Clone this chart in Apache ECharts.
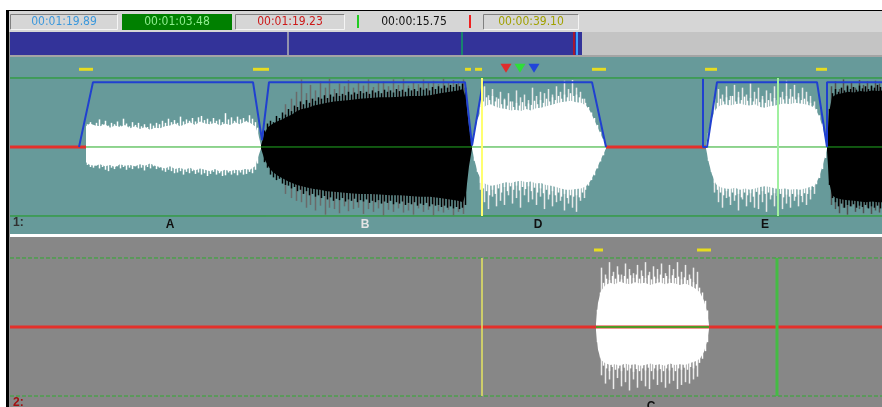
<!DOCTYPE html>
<html>
<head>
<meta charset="utf-8">
<style>
  html, body { margin: 0; padding: 0; background: #fff; }
  #main { width: 882px; height: 407px; }
</style>
<script src="https://cdn.jsdelivr.net/npm/echarts@6/dist/echarts.min.js"></script>
</head>
<body>
<div id="main"></div>
<script>
// --- time counters ---
const timeLabels = ['00:01:19.89', '00:01:03.48', '00:01:19.23', '00:00:15.75', '00:00:39.10'];

// --- overview bar: filled range and cursor positions ---
const overviewRange = [10, 582];
const overviewMarks = [288, 462, 574, 577];

// --- waveforms: [time, top amplitude, bottom amplitude] ---
// body = solid core, fine = dense sample lines, peaks = sparse tall peaks
const waveA = [[86,0.30,0.22],[90,0.34,0.26],[95,0.31,0.27],[100,0.30,0.25],[105,0.33,0.28],[110,0.28,0.26],[115,0.31,0.29],[120,0.29,0.25],[125,0.32,0.27],[130,0.27,0.26],[135,0.30,0.28],[140,0.26,0.25],[145,0.29,0.27],[150,0.25,0.24],[155,0.28,0.27],[160,0.27,0.29],[165,0.30,0.31],[170,0.31,0.28],[175,0.34,0.32],[180,0.30,0.30],[185,0.33,0.33],[190,0.36,0.30],[195,0.32,0.34],[200,0.37,0.31],[205,0.34,0.33],[210,0.33,0.35],[215,0.35,0.32],[220,0.31,0.36],[225,0.34,0.33],[230,0.32,0.35],[235,0.36,0.33],[240,0.33,0.34],[245,0.37,0.32],[250,0.35,0.33],[255,0.30,0.28],[258,0.20,0.15],[261,0.02,0.02]];
const fineA = [[87,0.33,0.26],[90,0.36,0.29],[93,0.32,0.30],[96,0.35,0.27],[99,0.40,0.31],[102,0.33,0.29],[105,0.38,0.33],[108,0.31,0.35],[111,0.35,0.30],[114,0.33,0.32],[117,0.37,0.28],[120,0.31,0.31],[123,0.41,0.29],[126,0.34,0.33],[129,0.30,0.30],[132,0.36,0.32],[135,0.32,0.28],[138,0.35,0.31],[141,0.30,0.30],[144,0.33,0.34],[147,0.29,0.29],[150,0.34,0.31],[153,0.31,0.28],[156,0.35,0.32],[159,0.33,0.30],[162,0.38,0.34],[165,0.35,0.36],[168,0.41,0.33],[171,0.36,0.35],[174,0.39,0.38],[177,0.35,0.37],[180,0.44,0.35],[183,0.37,0.40],[186,0.40,0.36],[189,0.38,0.38],[192,0.42,0.35],[195,0.37,0.39],[198,0.43,0.37],[201,0.45,0.40],[204,0.39,0.38],[207,0.41,0.42],[210,0.37,0.39],[213,0.42,0.36],[216,0.38,0.40],[219,0.40,0.38],[222,0.36,0.42],[225,0.49,0.41],[228,0.40,0.37],[231,0.43,0.40],[234,0.38,0.38],[237,0.44,0.41],[240,0.40,0.37],[243,0.42,0.40],[246,0.38,0.39],[249,0.46,0.36],[252,0.41,0.38],[255,0.36,0.33],[257,0.28,0.24]];

const waveB = [[261,0.02,0.02],[264,0.18,0.16],[268,0.29,0.27],[272,0.33,0.35],[277,0.37,0.41],[282,0.40,0.45],[287,0.44,0.49],[292,0.47,0.52],[297,0.52,0.55],[302,0.55,0.57],[308,0.57,0.59],[314,0.60,0.61],[320,0.62,0.62],[327,0.64,0.64],[334,0.66,0.65],[342,0.67,0.66],[350,0.68,0.67],[360,0.70,0.68],[370,0.71,0.68],[380,0.72,0.69],[390,0.72,0.70],[400,0.73,0.70],[410,0.74,0.71],[420,0.74,0.72],[430,0.75,0.72],[440,0.78,0.74],[450,0.80,0.76],[458,0.82,0.78],[463,0.84,0.80],[466,0.70,0.66],[469,0.30,0.28],[472,0.02,0.02]];
const fineB = [[264,0.24,0.22],[267,0.34,0.30],[270,0.38,0.40],[273,0.36,0.44],[276,0.45,0.48],[279,0.42,0.46],[282,0.50,0.53],[285,0.47,0.55],[288,0.55,0.56],[291,0.52,0.60],[294,0.60,0.58],[297,0.58,0.64],[300,0.66,0.62],[303,0.62,0.68],[306,0.68,0.64],[309,0.64,0.70],[312,0.70,0.68],[315,0.67,0.72],[318,0.72,0.70],[321,0.70,0.74],[324,0.75,0.71],[327,0.71,0.76],[330,0.76,0.73],[333,0.73,0.78],[336,0.78,0.75],[339,0.74,0.77],[342,0.77,0.74],[345,0.75,0.79],[348,0.80,0.76],[351,0.76,0.78],[354,0.79,0.75],[357,0.77,0.80],[360,0.81,0.77],[363,0.78,0.79],[366,0.80,0.76],[369,0.77,0.81],[372,0.82,0.78],[375,0.79,0.80],[378,0.81,0.77],[381,0.78,0.82],[384,0.83,0.79],[387,0.80,0.81],[390,0.82,0.78],[393,0.79,0.83],[396,0.84,0.80],[399,0.81,0.82],[402,0.83,0.79],[405,0.80,0.84],[408,0.85,0.81],[411,0.82,0.83],[414,0.84,0.80],[417,0.81,0.85],[420,0.86,0.82],[423,0.83,0.84],[426,0.85,0.81],[429,0.82,0.86],[432,0.87,0.83],[435,0.84,0.85],[438,0.88,0.84],[441,0.85,0.87],[444,0.89,0.85],[447,0.86,0.88],[450,0.90,0.86],[453,0.87,0.89],[456,0.91,0.87],[459,0.88,0.90],[462,0.92,0.88],[465,0.86,0.84]];
const peaksB = [[285,0.62,0.68],[291,0.70,0.74],[296,0.80,0.78],[301,0.98,0.80],[306,0.78,0.88],[310,0.90,0.84],[315,0.82,0.92],[320,0.95,0.85],[325,0.86,0.98],[329,0.99,0.88],[334,0.84,0.90],[339,0.92,0.96],[344,0.88,0.86],[348,0.97,0.93],[353,0.86,0.90],[358,0.94,0.88],[363,0.89,0.97],[368,0.98,0.90],[373,0.87,0.94],[378,0.93,0.89],[383,0.95,0.99],[388,0.88,0.91],[393,0.98,0.94],[398,0.90,0.89],[403,0.99,0.95],[408,0.89,0.92],[413,0.94,0.98],[418,0.91,0.89],[423,0.98,0.94],[428,0.93,0.91],[433,0.96,0.99],[438,0.91,0.93],[443,0.99,0.95],[448,0.94,0.91],[453,0.97,0.99],[458,0.95,0.94],[463,0.98,0.97]];

const waveD = [[472,0.02,0.02],[475,0.25,0.22],[478,0.42,0.38],[482,0.55,0.50],[486,0.60,0.54],[491,0.62,0.56],[496,0.58,0.55],[501,0.56,0.53],[506,0.55,0.51],[511,0.53,0.52],[516,0.54,0.50],[521,0.52,0.49],[526,0.55,0.51],[531,0.53,0.50],[536,0.56,0.53],[541,0.57,0.52],[546,0.59,0.55],[551,0.61,0.56],[556,0.63,0.58],[561,0.65,0.60],[566,0.66,0.62],[571,0.67,0.62],[576,0.65,0.61],[581,0.64,0.60],[586,0.60,0.57],[590,0.52,0.50],[594,0.40,0.39],[598,0.27,0.27],[602,0.14,0.14],[606,0.02,0.02]];
const fineD = [[474,0.22,0.20],[477,0.40,0.36],[480,0.58,0.52],[483,0.66,0.60],[486,0.72,0.64],[489,0.68,0.70],[492,0.74,0.62],[495,0.66,0.68],[498,0.70,0.60],[501,0.62,0.66],[504,0.68,0.58],[507,0.60,0.64],[510,0.66,0.57],[513,0.58,0.62],[516,0.64,0.56],[519,0.60,0.63],[522,0.65,0.58],[525,0.59,0.61],[528,0.63,0.57],[531,0.61,0.64],[534,0.67,0.59],[537,0.62,0.66],[540,0.68,0.60],[543,0.64,0.67],[546,0.70,0.62],[549,0.66,0.69],[552,0.72,0.64],[555,0.68,0.70],[558,0.74,0.66],[561,0.70,0.72],[564,0.76,0.68],[567,0.72,0.74],[570,0.78,0.70],[573,0.74,0.72],[576,0.76,0.70],[579,0.72,0.73],[582,0.70,0.66],[585,0.64,0.62],[588,0.58,0.56],[591,0.50,0.48],[594,0.42,0.41],[597,0.32,0.31],[600,0.22,0.21],[603,0.12,0.12]];
const peaksD = [[480,0.70,0.62],[484,0.88,0.80],[488,0.75,0.90],[492,0.84,0.72],[496,0.72,0.86],[500,0.80,0.78],[504,0.70,0.84],[508,0.78,0.70],[512,0.66,0.82],[516,0.82,0.74],[520,0.72,0.88],[524,0.76,0.70],[528,0.68,0.80],[532,0.86,0.76],[536,0.74,0.84],[540,0.80,0.72],[544,0.78,0.90],[548,0.84,0.76],[552,0.76,0.86],[556,0.88,0.80],[560,0.80,0.78],[564,0.96,0.92],[568,0.84,0.82],[572,0.97,0.88],[576,0.86,0.94],[580,0.80,0.78],[584,0.70,0.74]];

const waveE = [[706,0.02,0.02],[709,0.25,0.24],[712,0.42,0.40],[716,0.55,0.54],[720,0.60,0.58],[725,0.62,0.60],[730,0.60,0.61],[735,0.62,0.59],[740,0.63,0.62],[745,0.61,0.60],[750,0.60,0.62],[755,0.62,0.60],[760,0.58,0.58],[765,0.57,0.57],[770,0.59,0.58],[775,0.60,0.60],[780,0.62,0.61],[785,0.63,0.60],[790,0.62,0.62],[795,0.64,0.61],[800,0.63,0.62],[805,0.62,0.60],[810,0.60,0.58],[815,0.56,0.55],[819,0.45,0.44],[822,0.32,0.30],[825,0.15,0.14],[827,0.02,0.02]];
const fineE = [[708,0.20,0.20],[711,0.38,0.36],[714,0.54,0.52],[717,0.64,0.62],[720,0.70,0.66],[723,0.66,0.70],[726,0.72,0.64],[729,0.68,0.72],[732,0.74,0.66],[735,0.66,0.70],[738,0.72,0.68],[741,0.68,0.73],[744,0.73,0.66],[747,0.67,0.70],[750,0.71,0.67],[753,0.66,0.72],[756,0.70,0.65],[759,0.65,0.69],[762,0.69,0.64],[765,0.64,0.68],[768,0.68,0.66],[771,0.66,0.70],[774,0.71,0.67],[777,0.68,0.71],[780,0.72,0.68],[783,0.69,0.73],[786,0.74,0.69],[789,0.70,0.72],[792,0.73,0.68],[795,0.69,0.72],[798,0.72,0.69],[801,0.68,0.71],[804,0.70,0.67],[807,0.66,0.68],[810,0.64,0.62],[813,0.60,0.58],[816,0.55,0.54],[819,0.46,0.45],[822,0.34,0.32],[825,0.18,0.16]];
const peaksE = [[714,0.70,0.66],[718,0.84,0.80],[722,0.76,0.88],[726,0.88,0.74],[730,0.74,0.84],[734,0.90,0.78],[738,0.80,0.92],[742,0.86,0.76],[746,0.76,0.86],[750,0.92,0.80],[754,0.80,0.88],[758,0.86,0.90],[762,0.74,0.80],[766,0.82,0.94],[770,0.78,0.76],[774,0.88,0.86],[782,0.80,0.90],[786,0.96,0.82],[790,0.84,0.88],[794,0.90,0.78],[798,0.78,0.86],[802,0.86,0.80],[806,0.80,0.84],[810,0.74,0.76],[814,0.66,0.68]];

const waveF = [[827,0.05,0.05],[829,0.50,0.50],[832,0.72,0.70],[836,0.76,0.74],[842,0.78,0.76],[848,0.80,0.77],[854,0.79,0.78],[860,0.81,0.79],[866,0.80,0.80],[872,0.82,0.79],[878,0.81,0.80],[882,0.82,0.80]];
const fineF = [[829,0.55,0.55],[832,0.78,0.74],[835,0.84,0.80],[838,0.80,0.86],[841,0.86,0.82],[844,0.82,0.88],[847,0.88,0.84],[850,0.84,0.86],[853,0.87,0.83],[856,0.83,0.88],[859,0.89,0.85],[862,0.85,0.87],[865,0.88,0.84],[868,0.84,0.89],[871,0.89,0.86],[874,0.86,0.88],[877,0.90,0.85],[880,0.87,0.89]];
const peaksF = [[831,0.88,0.84],[835,0.95,0.90],[839,0.84,0.96],[843,0.98,0.88],[847,0.90,0.98],[851,0.94,0.86],[855,0.86,0.94],[859,0.97,0.90],[863,0.90,0.96],[867,0.95,0.88],[871,0.88,0.97],[875,0.96,0.92],[879,0.92,0.95]];

const waveC = [[596,0.05,0.05],[598,0.35,0.33],[601,0.52,0.48],[605,0.60,0.52],[610,0.64,0.55],[615,0.62,0.54],[620,0.66,0.56],[625,0.63,0.53],[630,0.62,0.55],[635,0.65,0.54],[640,0.63,0.56],[645,0.64,0.55],[650,0.61,0.53],[655,0.63,0.55],[660,0.65,0.54],[665,0.62,0.56],[670,0.64,0.53],[675,0.63,0.55],[680,0.61,0.54],[685,0.63,0.55],[690,0.60,0.52],[695,0.56,0.50],[700,0.50,0.46],[704,0.38,0.36],[707,0.22,0.21],[709,0.03,0.03]];
const fineC = [[597,0.25,0.22],[600,0.50,0.44],[603,0.64,0.56],[606,0.70,0.60],[609,0.68,0.64],[612,0.74,0.58],[615,0.70,0.62],[618,0.76,0.60],[621,0.69,0.64],[624,0.74,0.59],[627,0.70,0.63],[630,0.75,0.60],[633,0.71,0.65],[636,0.76,0.61],[639,0.70,0.64],[642,0.74,0.60],[645,0.71,0.63],[648,0.75,0.59],[651,0.69,0.64],[654,0.73,0.60],[657,0.70,0.63],[660,0.76,0.61],[663,0.71,0.64],[666,0.74,0.60],[669,0.70,0.63],[672,0.75,0.59],[675,0.71,0.64],[678,0.73,0.60],[681,0.69,0.62],[684,0.72,0.59],[687,0.68,0.62],[690,0.70,0.58],[693,0.65,0.60],[696,0.62,0.56],[699,0.57,0.52],[702,0.50,0.46],[705,0.38,0.35],[707,0.24,0.22]];
const peaksC = [[601,0.86,0.70],[605,0.76,0.82],[609,0.94,0.76],[613,0.80,0.90],[617,0.88,0.74],[621,0.76,0.86],[625,0.92,0.80],[629,0.84,0.92],[633,0.78,0.76],[637,0.90,0.88],[641,0.82,0.78],[645,0.94,0.86],[649,0.80,0.90],[653,0.88,0.76],[657,0.84,0.84],[661,0.92,0.80],[665,0.78,0.88],[669,0.90,0.82],[673,0.84,0.78],[677,0.94,0.90],[681,0.80,0.84],[685,0.90,0.80],[689,0.76,0.82],[693,0.86,0.76],[697,0.80,0.72]];

// --- volume envelope (track 1) ---
const envelope1 = [[79,0],[93,0.94],[253,0.94],[262,0.10],[269,0.94],[465,0.94],[472,0.02],[483,0.94],[592,0.94],[606,0]];
const envelope2 = [[703,0.99],[703,0],[707,0],[717,0.94],[817,0.94],[827,0],[827,0.94],[882,0.94]];

// --- silent parts, cursors, region markers ---
const silent1 = [[10,86],[606,706]];
const cursorYellow = 482;
const cursorGreen1 = 778;
const cursorGreen2 = 777;
const regionMarks1 = [[79,93],[253,269],[465,471],[475,482],[592,606],[705,717],[816,827]];
const regionMarks2 = [[594,603],[697,711]];
const playMarks = [506, 520, 534];
const clipC = [596, 709];

// --- labels ---
const trackLabels1 = [['A',170],['B',365],['D',538],['E',765]];
const trackLabels2 = [['C',651]];

const chart = echarts.init(document.getElementById('main'));

function axisX(i) { return { type: 'value', gridIndex: i, min: 10, max: 882, show: false }; }
function axisY(i, min, max) { return { type: 'value', gridIndex: i, min: min, max: max, show: false }; }

function segSeries(axis, data, color, width, z, dash, crisp) {
    return {
        type: 'custom', xAxisIndex: axis, yAxisIndex: axis, data: data, z: z, silent: true, clip: false,
        renderItem: function (params, api) {
            const a = api.coord([api.value(0), api.value(1)]);
            const b = api.coord([api.value(2), api.value(3)]);
            const dx = crisp ? 0.5 : 0;
            return {
                type: 'line',
                shape: { x1: Math.round(a[0]) + dx, y1: a[1], x2: Math.round(b[0]) + dx, y2: b[1] },
                style: { stroke: color, lineWidth: width, lineDash: dash || null }
            };
        }
    };
}

function bodySeries(axis, waves, colors, z) {
    return {
        type: 'custom', xAxisIndex: axis, yAxisIndex: axis, z: z, silent: true,
        data: waves.map((w, i) => [w[0][0], i]),
        renderItem: function (params, api) {
            const w = waves[params.dataIndex];
            const top = w.map(p => api.coord([p[0], p[1]]));
            const bot = w.slice().reverse().map(p => api.coord([p[0], -p[2]]));
            return { type: 'polygon', shape: { points: top.concat(bot) }, style: { fill: colors[params.dataIndex] } };
        }
    };
}

function spikeSeries(axis, data, color, z, width) {
    return segSeries(axis, data.map(s => [s[0], s[1], s[0], -s[2]]), color, width || 1, z, null, true);
}

function labelSeries(axis, data, y, colors, align, z) {
    return {
        type: 'custom', xAxisIndex: axis, yAxisIndex: axis, data: data.map(d => [d[1], y]), z: z, silent: true, clip: false,
        renderItem: function (params, api) {
            const p = api.coord([api.value(0), api.value(1)]);
            return {
                type: 'text', x: p[0], y: p[1],
                style: {
                    text: data[params.dataIndex][0], fill: colors[params.dataIndex],
                    font: 'bold 12px Arial, "Liberation Sans", sans-serif',
                    align: align, verticalAlign: 'middle'
                }
            };
        }
    };
}

const hLine = (y) => [10, y, 882, y];
const vLine = (x) => [x, -1, x, 1];

const series = [
    // overview
    {
        type: 'custom', xAxisIndex: 0, yAxisIndex: 0, data: [overviewRange], z: 1, silent: true,
        renderItem: function (params, api) {
            const a = api.coord([api.value(0), 1]);
            const b = api.coord([api.value(1), 0]);
            return { type: 'rect', shape: { x: a[0], y: a[1], width: b[0] - a[0], height: b[1] - a[1] }, style: { fill: '#333399' } };
        }
    },
    segSeries(0, [[overviewMarks[0], 0, overviewMarks[0], 1]], '#b4b4b4', 1.5, 2),
    segSeries(0, [[overviewMarks[1], 0, overviewMarks[1], 1]], '#10a060', 1.5, 2),
    segSeries(0, [[overviewMarks[2], 0, overviewMarks[2], 1]], '#cc1010', 1.5, 2),
    segSeries(0, [[overviewMarks[3], 0, overviewMarks[3], 1]], '#3aa0ff', 2, 2),

    // track 1
    segSeries(1, [hLine(1), hLine(-1)], '#1c9c1c', 1, 1),
    spikeSeries(1, peaksB, '#6a6a6a', 2, 1.5),
    spikeSeries(1, peaksD, '#e8e8e8', 2, 1.5),
    spikeSeries(1, peaksE, '#e8e8e8', 2, 1.5),
    spikeSeries(1, peaksF, '#505050', 2, 1.5),
    bodySeries(1, [waveA, waveB, waveD, waveE, waveF], ['#ffffff', '#000000', '#ffffff', '#ffffff', '#000000'], 3),
    spikeSeries(1, fineA, '#ffffff', 3, 1.5),
    spikeSeries(1, fineB, '#000000', 3, 1.5),
    spikeSeries(1, fineD, '#ffffff', 3, 1.5),
    spikeSeries(1, fineE, '#ffffff', 3, 1.5),
    spikeSeries(1, fineF, '#000000', 3, 1.5),
    segSeries(1, [hLine(0)], '#22aa22', 1, 4),
    segSeries(1, silent1.map(s => [s[0], 0, s[1], 0]), '#e4302a', 3, 5),
    { type: 'line', xAxisIndex: 1, yAxisIndex: 1, data: envelope1, symbol: 'none', z: 6, silent: true,
      lineStyle: { color: '#2040d0', width: 2 } },
    { type: 'line', xAxisIndex: 1, yAxisIndex: 1, data: envelope2, symbol: 'none', z: 6, silent: true,
      lineStyle: { color: '#2040d0', width: 2 } },
    segSeries(1, [vLine(cursorYellow)], '#ffff70', 2, 7),
    segSeries(1, [vLine(cursorGreen1)], '#a0f0a0', 2, 7),
    segSeries(1, regionMarks1.map(m => [m[0], 1.126, m[1], 1.126]), '#e6dc20', 3, 7),
    {
        type: 'scatter', xAxisIndex: 1, yAxisIndex: 1, z: 8, silent: true,
        symbol: 'triangle', symbolRotate: 180, symbolSize: [11, 9],
        data: playMarks.map((x, i) => ({ value: [x, 1.14], itemStyle: { color: ['#ff1010', '#20ee20', '#1030e8'][i] } }))
    },
    labelSeries(1, [['1:', 13]], -1.10, ['#303030'], 'left', 9),
    labelSeries(1, trackLabels1, -1.13, ['#101010', '#e4e4e4', '#101010', '#101010'], 'center', 9),

    // track 2
    segSeries(2, [hLine(1), hLine(-1)], '#30aa30', 1, 1, [4, 2]),
    spikeSeries(2, peaksC, '#ececec', 2, 1.5),
    bodySeries(2, [waveC], ['#ffffff'], 3),
    spikeSeries(2, fineC, '#ffffff', 3, 1.5),
    segSeries(2, [hLine(0)], '#e4302a', 3, 4),
    segSeries(2, [[clipC[0], 0, clipC[1], 0]], '#22bb22', 1.5, 5),
    segSeries(2, [vLine(cursorYellow)], '#e4e460', 1.5, 7),
    segSeries(2, [vLine(cursorGreen2)], '#44bb44', 3, 7),
    segSeries(2, regionMarks2.map(m => [m[0], 1.116, m[1], 1.116]), '#e6dc20', 3, 7),
    labelSeries(2, [['2:', 13]], -1.10, ['#a01010'], 'left', 9),
    labelSeries(2, trackLabels2, -1.15, ['#101010'], 'center', 9)
];

// counter boxes (layout of the tool bar)
const boxes = [
    { x: 10, w: 108, fill: '#d6d6d6', color: '#3c98dc', sunken: true },
    { x: 122, w: 110, fill: '#008000', color: '#90ee90', sunken: false },
    { x: 235, w: 110, fill: '#d6d6d6', color: '#cc1818', sunken: true },
    { x: 362, w: 104, fill: '#d6d6d6', color: '#101010', sunken: false },
    { x: 483, w: 96, fill: '#d6d6d6', color: '#a0a000', sunken: true }
];
const graphic = [
    { type: 'rect', shape: { x: 6, y: 10, width: 3, height: 397 }, style: { fill: '#000' } },
    { type: 'rect', shape: { x: 6, y: 10, width: 876, height: 1 }, style: { fill: '#000' } },
    { type: 'rect', shape: { x: 9, y: 11, width: 873, height: 21 }, style: { fill: '#d6d6d6' } },
    { type: 'rect', shape: { x: 9, y: 55, width: 873, height: 2 }, style: { fill: '#a4a4a4' } },
    { type: 'rect', shape: { x: 9, y: 32, width: 1, height: 375 }, style: { fill: '#909090' } },
    { type: 'rect', shape: { x: 357, y: 15, width: 2, height: 13 }, style: { fill: '#22cc22' } },
    { type: 'rect', shape: { x: 469, y: 15, width: 2, height: 13 }, style: { fill: '#ee2020' } }
];
boxes.forEach((b, i) => {
    graphic.push({ type: 'rect', shape: { x: b.x, y: 14, width: b.w, height: 16 }, style: { fill: b.fill } });
    if (b.sunken) {
        graphic.push({ type: 'polyline', shape: { points: [[b.x + 0.5, 29.5], [b.x + 0.5, 14.5], [b.x + b.w - 0.5, 14.5]] }, style: { stroke: '#808080', lineWidth: 1, fill: null } });
        graphic.push({ type: 'polyline', shape: { points: [[b.x + 0.5, 29.5], [b.x + b.w - 0.5, 29.5], [b.x + b.w - 0.5, 14.5]] }, style: { stroke: '#f4f4f4', lineWidth: 1, fill: null } });
    }
    graphic.push({
        type: 'text', x: b.x + b.w / 2, y: 22,
        style: { text: timeLabels[i], fill: b.color, font: '12px "Liberation Sans Narrow", "DejaVu Sans Condensed", sans-serif', align: 'center', verticalAlign: 'middle' }
    });
});

chart.setOption({
    animation: false,
    backgroundColor: '#ffffff',
    grid: [
        { left: 10, right: 0, top: 32, height: 23, show: true, backgroundColor: '#c4c4c4', borderWidth: 0 },
        { left: 10, right: 0, top: 57, height: 177, show: true, backgroundColor: '#679a9a', borderWidth: 0 },
        { left: 10, right: 0, top: 237, height: 170, show: true, backgroundColor: '#878787', borderWidth: 0 }
    ],
    xAxis: [axisX(0), axisX(1), axisX(2)],
    yAxis: [axisY(0, 0, 1), axisY(1, -1.2609, 1.3043), axisY(2, -1.1594, 1.3043)],
    graphic: graphic,
    series: series
});
window.addEventListener('resize', () => chart.resize());
</script>
</body>
</html>
